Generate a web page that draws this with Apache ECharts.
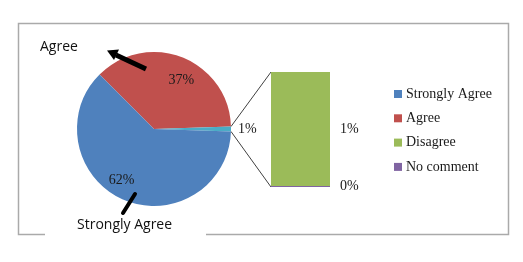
<!DOCTYPE html>
<html>
<head>
<meta charset="utf-8">
<script src="https://cdn.jsdelivr.net/npm/echarts@6/dist/echarts.min.js"></script>
<style>
  html, body { margin: 0; padding: 0; background: #fff; }
  #chart { width: 523px; height: 262px; }
</style>
</head>
<body>
<div id="chart"></div>
<script>
// pie slices (clockwise from the upper-left edge of Agree)
const pieNames = ["Agree", "Other", "Strongly Agree"];
const pieValues = [37, 1, 62];
// secondary bar (split of "Other")
const barNames = ["Disagree", "No comment"];
const barValues = [1, 0];
const legendNames = ["Strongly Agree", "Agree", "Disagree", "No comment"];

const colors = {
  "Strongly Agree": "#4F81BD",
  "Agree": "#C0504D",
  "Other": "#4BACC6",
  "Disagree": "#9BBB59",
  "No comment": "#8064A2"
};
// label nudges so the inside labels sit where Excel put them
const labelOffsets = { "Agree": [12, -10], "Strongly Agree": [-16, 13] };

const pieCenter = [154, 129];
const pieRadius = 77;
const pieStart = 135;
const serif = "'Liberation Serif', 'DejaVu Serif', serif";
const sans = "'Open Sans', 'Liberation Sans', sans-serif";

const chart = echarts.init(document.getElementById("chart"));

const pieData = pieNames.map((name, i) => {
  const item = { name: name, value: pieValues[i], itemStyle: { color: colors[name] } };
  if (name === "Other") {
    item.label = { position: "outside", distance: 3 };
    item.labelLine = { show: false, length: 2, length2: 0 };
  } else {
    item.label = { position: "inside", offset: labelOffsets[name] };
  }
  return item;
});

const labelFont = { fontFamily: serif, fontSize: 14, color: "#1a1a1a" };

const option = {
  animation: false,
  legend: {
    data: legendNames,
    orient: "vertical",
    left: 394,
    top: 87,
    padding: 0,
    icon: "rect",
    itemWidth: 8,
    itemHeight: 8,
    itemGap: 10.3,
    selectedMode: false,
    textStyle: { fontFamily: serif, fontSize: 14, color: "#1a1a1a", padding: [0, 0, 0, -1] }
  },
  grid: { left: 271, top: 72, width: 59, height: 115 },
  xAxis: { type: "category", data: ["Other"], show: false },
  yAxis: { type: "value", min: 0, max: 1, show: false },
  series: [
    {
      type: "pie",
      name: "Responses",
      center: pieCenter,
      radius: pieRadius,
      startAngle: pieStart,
      clockwise: true,
      emphasis: { disabled: true },
      label: Object.assign({ show: true, formatter: (p) => p.value + "%" }, labelFont),
      labelLine: { show: false },
      data: pieData
    },
    {
      type: "bar",
      name: barNames[0],
      data: [barValues[0]],
      barWidth: "100%",
      barGap: "-100%",
      itemStyle: { color: colors[barNames[0]] },
      label: Object.assign({ show: true, position: "right", distance: 10,
        formatter: (p) => p.value + "%" }, labelFont)
    },
    {
      type: "bar",
      name: barNames[1],
      data: [barValues[1]],
      barWidth: "100%",
      barGap: "-100%",
      barMinHeight: 1,
      itemStyle: { color: colors[barNames[1]] },
      label: Object.assign({ show: true, position: "right", distance: 10,
        formatter: (p) => p.value + "%" }, labelFont)
    }
  ]
};

chart.setOption(option);

// connector lines from the "Other" slice to the bar corners
const total = pieValues.reduce((a, b) => a + b, 0);
const otherIdx = pieNames.indexOf("Other");
let before = 0;
for (let i = 0; i < otherIdx; i++) before += pieValues[i];
const a1 = (pieStart - before / total * 360) * Math.PI / 180;
const a2 = (pieStart - (before + pieValues[otherIdx]) / total * 360) * Math.PI / 180;
const p1 = [pieCenter[0] + pieRadius * Math.cos(a1), pieCenter[1] - pieRadius * Math.sin(a1)];
const p2 = [pieCenter[0] + pieRadius * Math.cos(a2), pieCenter[1] - pieRadius * Math.sin(a2)];
const topPt = chart.convertToPixel({ xAxisIndex: 0, yAxisIndex: 0 }, ["Other", 1]);
const botPt = chart.convertToPixel({ xAxisIndex: 0, yAxisIndex: 0 }, ["Other", 0]);
const barLeft = topPt[0] - 59 / 2;

chart.setOption({
  graphic: [
    // frame
    { type: "rect", shape: { x: 18.5, y: 23.5, width: 490, height: 211 },
      style: { fill: "none", stroke: "#aaa", lineWidth: 1.5 }, z: -10 },
    // gap in bottom border behind the label
    { type: "rect", shape: { x: 45, y: 232, width: 161, height: 5 },
      style: { fill: "#fff" }, z: -5 },
    { type: "line", shape: { x1: p1[0], y1: p1[1], x2: barLeft, y2: topPt[1] },
      style: { stroke: "#404040", lineWidth: 1 } },
    { type: "line", shape: { x1: p2[0], y1: p2[1], x2: barLeft, y2: botPt[1] },
      style: { stroke: "#404040", lineWidth: 1 } },
    // annotations
    { type: "text", left: 40, top: 40,
      style: { text: "Agree", font: "14px " + sans, fill: "#111" } },
    { type: "line", shape: { x1: 146, y1: 69, x2: 116, y2: 55 },
      style: { stroke: "#000", lineWidth: 5 }, z: 20 },
    { type: "polygon", shape: { points: [[107, 50.5], [119, 49.5], [114, 60]] },
      style: { fill: "#000" }, z: 20 },
    { type: "line", shape: { x1: 135, y1: 194, x2: 123, y2: 213 },
      style: { stroke: "#000", lineWidth: 4, lineCap: "round" }, z: 20 },
    { type: "text", left: 77, top: 218,
      style: { text: "Strongly Agree", font: "14px " + sans, fill: "#111" } }
  ]
});
</script>
</body>
</html>
